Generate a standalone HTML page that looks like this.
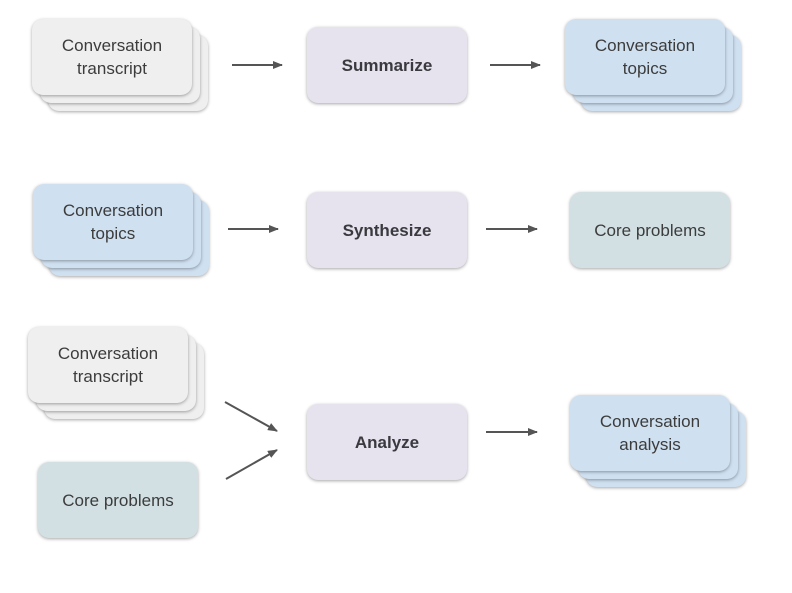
<!DOCTYPE html>
<html><head><meta charset="utf-8"><style>
html,body{margin:0;padding:0;background:#fff;}
body{width:792px;height:593px;position:relative;overflow:hidden;font-family:"Liberation Sans",Arial,sans-serif;}
.b{position:absolute;width:160px;height:76px;border-radius:11px;box-shadow:0 1px 3px rgba(0,0,0,.35);display:flex;align-items:center;justify-content:center;text-align:center;color:#3c3c3c;font-size:17px;line-height:23px;box-sizing:border-box;}
.g{background:#efefef}.bl{background:#cfe0f1}.p{background:#e6e3ef;font-weight:bold;color:#3a3a3e}.t{background:#d2e0e3}
svg{position:absolute;left:0;top:0}
</style></head><body>
<!-- row1 -->
<div class="b g" style="left:48px;top:35px"></div>
<div class="b g" style="left:40px;top:27px"></div>
<div class="b g" style="left:32px;top:19px">Conversation<br>transcript</div>
<div class="b p" style="left:307px;top:27px">Summarize</div>
<div class="b bl" style="left:581px;top:35px"></div>
<div class="b bl" style="left:573px;top:27px"></div>
<div class="b bl" style="left:565px;top:19px">Conversation<br>topics</div>
<!-- row2 -->
<div class="b bl" style="left:49px;top:200px"></div>
<div class="b bl" style="left:41px;top:192px"></div>
<div class="b bl" style="left:33px;top:184px">Conversation<br>topics</div>
<div class="b p" style="left:307px;top:192px">Synthesize</div>
<div class="b t" style="left:570px;top:192px">Core problems</div>
<!-- row3 -->
<div class="b g" style="left:44px;top:343px"></div>
<div class="b g" style="left:36px;top:335px"></div>
<div class="b g" style="left:28px;top:327px">Conversation<br>transcript</div>
<div class="b t" style="left:38px;top:462px">Core problems</div>
<div class="b p" style="left:307px;top:404px">Analyze</div>
<div class="b bl" style="left:586px;top:411px"></div>
<div class="b bl" style="left:578px;top:403px"></div>
<div class="b bl" style="left:570px;top:395px">Conversation<br>analysis</div>
<svg width="792" height="593">
<defs><marker id="a" markerWidth="10" markerHeight="8" refX="9" refY="4" orient="auto" markerUnits="userSpaceOnUse"><path d="M0,0 L10,4 L0,8 z" fill="#555"/></marker></defs>
<g stroke="#555" stroke-width="2" marker-end="url(#a)">
<line x1="232" y1="65" x2="282" y2="65"/>
<line x1="490" y1="65" x2="540" y2="65"/>
<line x1="228" y1="229" x2="278" y2="229"/>
<line x1="486" y1="229" x2="537" y2="229"/>
<line x1="225" y1="402" x2="277" y2="431"/>
<line x1="226" y1="479" x2="277" y2="450"/>
<line x1="486" y1="432" x2="537" y2="432"/>
</g></svg>
</body></html>
